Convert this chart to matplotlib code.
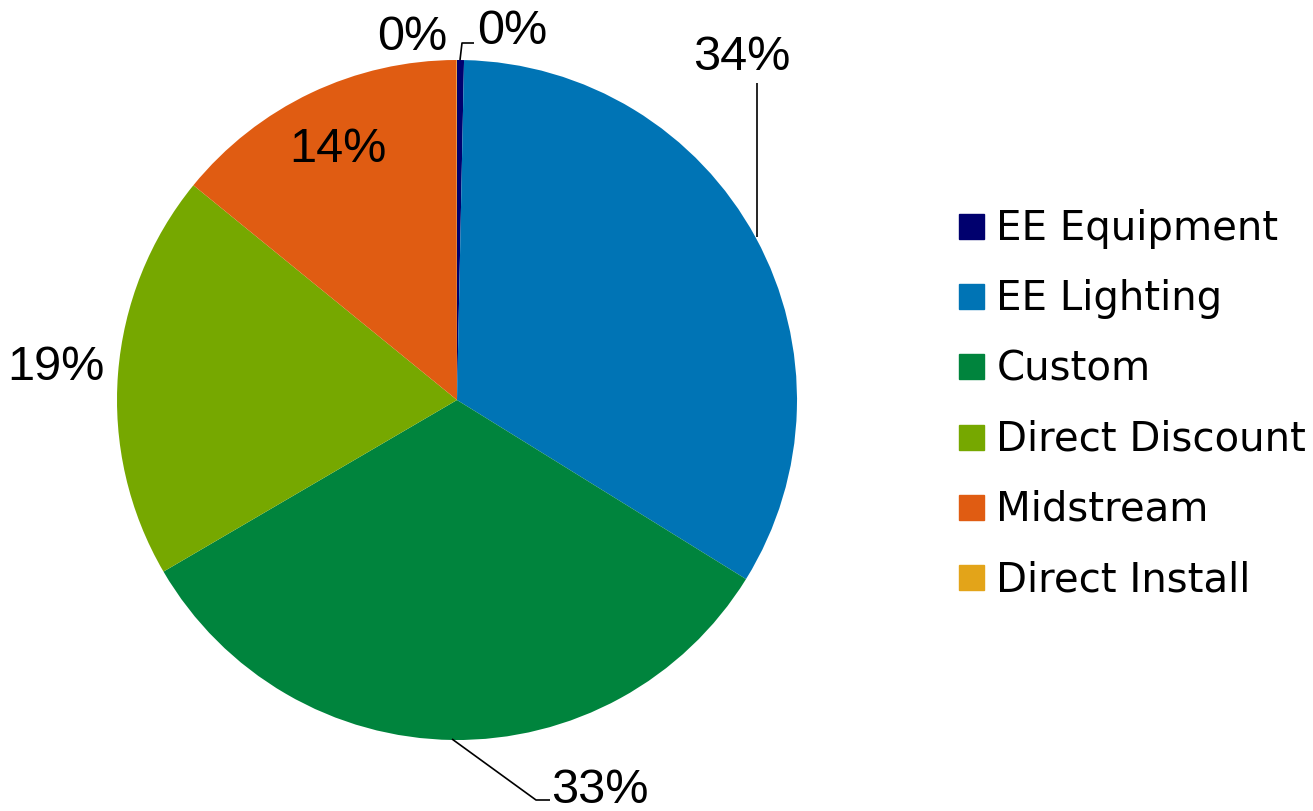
import matplotlib
matplotlib.use("Agg")
import matplotlib.pyplot as plt
from matplotlib.lines import Line2D

categories = ["EE Equipment", "EE Lighting", "Custom", "Direct Discount", "Midstream", "Direct Install"]
values = [0.33, 33.5, 32.75, 19.3, 14.1, 0.02]
labels = ["0%", "34%", "33%", "19%", "14%", "0%"]
colors = ["#00006E", "#0074B5", "#00843D", "#76A800", "#E05C12", "#E3A419"]

W, H = 1313, 811
fig = plt.figure(figsize=(W / 100, H / 100), dpi=100)
cx, cy, r = 457, 400, 340
ax = fig.add_axes([(cx - r) / W, (H - cy - r) / H, 2 * r / W, 2 * r / H])
ax.set_xlim(-1, 1)
ax.set_ylim(-1, 1)
ax.set_aspect("equal")
ax.axis("off")

wedges, _ = ax.pie(values, colors=colors, startangle=90, counterclock=False,
                   radius=1, wedgeprops=dict(linewidth=0))
ax.set_xlim(-1, 1)
ax.set_ylim(-1, 1)

def d(px, py):
    return ((px - cx) / r, (cy - py) / r)

font = "Liberation Sans"
fs = 35
label_pos = [d(512, 31), d(742, 57), d(600, 791), d(56, 368), d(338, 150), d(412, 38)]
for lab, pos in zip(labels, label_pos):
    ax.text(pos[0], pos[1], lab, ha="center", va="center", fontsize=fs,
            family=font, color="black", clip_on=False)

# leader lines
leaders = [
    [d(460, 60), d(462, 43), d(474, 43)],
    [d(757, 237), d(757, 83)],
    [d(452, 739), d(536, 800), d(550, 800)],
]
for pts in leaders:
    xs = [p[0] for p in pts]
    ys = [p[1] for p in pts]
    ax.plot(xs, ys, color="black", lw=1.2, clip_on=False, solid_capstyle="butt")

handles = [Line2D([], [], marker="s", linestyle="none", markersize=18,
                  markerfacecolor=c, markeredgecolor=c) for c in colors]
leg = fig.legend(handles, categories, loc="upper left",
                 bbox_to_anchor=(952.5 / W, 1 - 209 / H),
                 frameon=False, prop=dict(family="DejaVu Sans", size=29),
                 handlelength=0.9, handletextpad=0.19, labelspacing=0.75,
                 borderpad=0, borderaxespad=0)

fig.savefig("out.png", dpi=100)
